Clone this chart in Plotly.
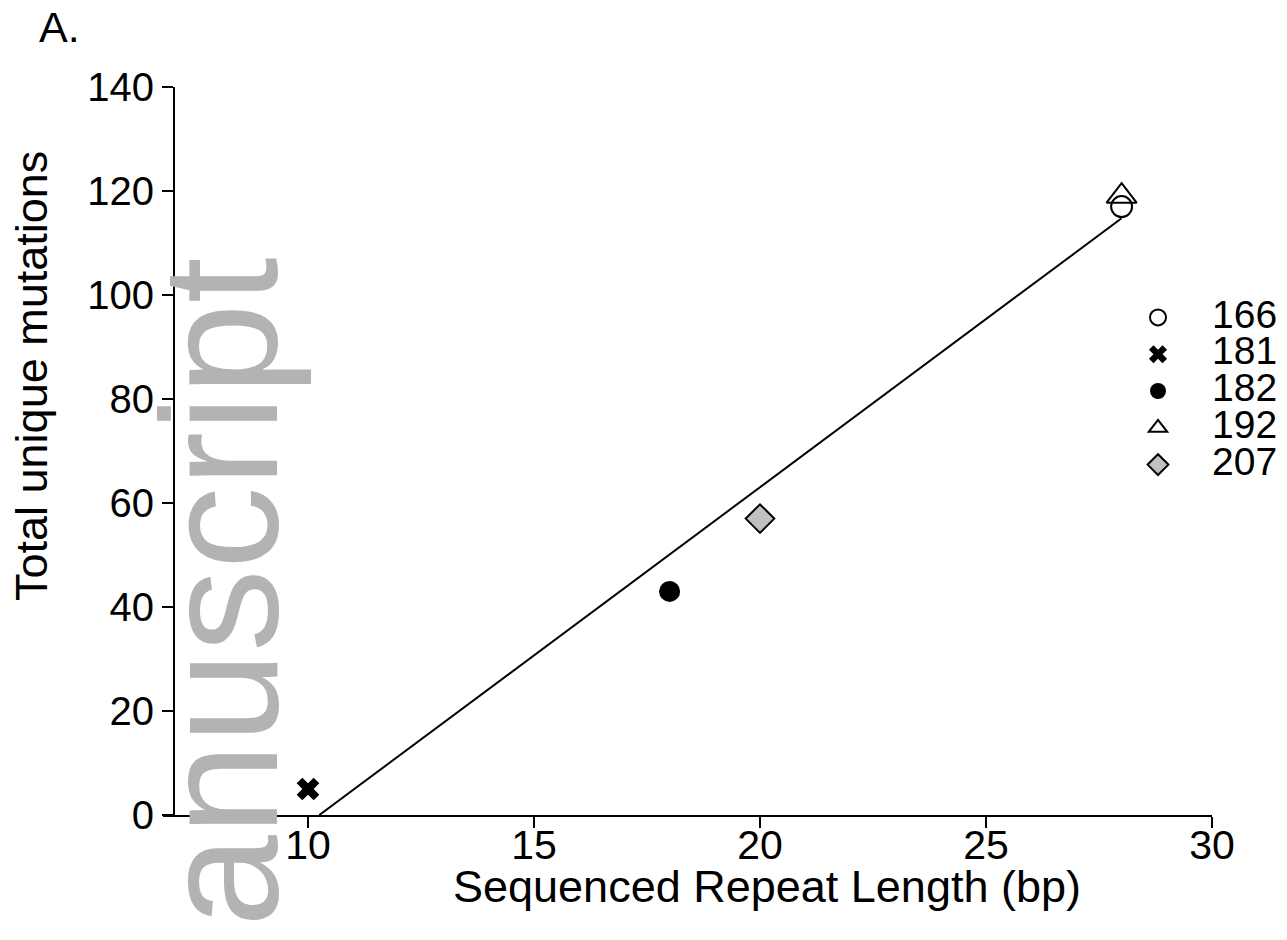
import numpy as np
import plotly.graph_objects as go

# ---- data ----
series_names = ["166", "181", "182", "192", "207"]
repeat_length = [28, 10, 18, 28, 20]
unique_mutations = [117, 5, 43, 119, 57]

x_ticks = [10, 15, 20, 25, 30]
y_ticks = [0, 20, 40, 60, 80, 100, 120, 140]

# ---- styles ----
symbols = ["circle", "x", "circle", "triangle-up", "diamond"]
fills = ["rgba(0,0,0,0)", "black", "black", "rgba(0,0,0,0)", "#c0c0c0"]
line_w = [2, 0, 0, 2, 2]
sizes = [21, 20, 21, 26, 22]

FONT = "Arial, 'Liberation Sans', Helvetica, sans-serif"

fig = go.Figure()

# regression line computed from the data
slope, intercept = np.polyfit(repeat_length, unique_mutations, 1)
x_start = -intercept / slope
x_end = max(repeat_length)
fig.add_trace(go.Scatter(
    x=[x_start, x_end], y=[slope * x_start + intercept, slope * x_end + intercept],
    mode="lines", line=dict(color="black", width=2), showlegend=False, hoverinfo="skip"))

for i in range(len(series_names)):
    fig.add_trace(go.Scatter(
        x=[repeat_length[i]], y=[unique_mutations[i]], mode="markers",
        name='<span style="font-size:39px">' + series_names[i] + '</span>',
        legendrank=i + 1,
        marker=dict(symbol=symbols[i], size=sizes[i], color=fills[i],
                    line=dict(color="black", width=line_w[i]))))

W, H = 1287, 940
L, R, T, B = 163, 75, 87, 125
pw = W - L - R
ph = H - T - B

def px_x(p):
    return (p - L) / pw

def px_y(p):
    return (H - B - p) / ph

fig.update_layout(
    width=W, height=H,
    margin=dict(l=L, r=R, t=T, b=B, pad=0, autoexpand=False),
    paper_bgcolor="white", plot_bgcolor="white",
    font=dict(family=FONT, color="black"),
    showlegend=True,
    legend=dict(x=px_x(1104), y=px_y(294), xanchor="left", yanchor="top",
                font=dict(size=26, family=FONT), bgcolor="rgba(0,0,0,0)",
                tracegroupgap=0, itemwidth=98),
    xaxis=dict(range=[30 - pw / 45.2, 30], tickvals=x_ticks, showline=True,
               linecolor="black", linewidth=2, ticks="outside", ticklen=11,
               tickwidth=2, tickcolor="black", showgrid=False, zeroline=False,
               ticklabelstandoff=-18,
               tickfont=dict(size=41, family=FONT)),
    yaxis=dict(range=[0, 140], tickvals=y_ticks, anchor="free", position=px_x(174),
               showline=True, linecolor="black", linewidth=2, ticks="outside",
               ticklen=11, tickwidth=2, tickcolor="black", showgrid=False,
               zeroline=False, tickfont=dict(size=40, family=FONT)),
)

annotations = [
    dict(text="anuscript", textangle=-90, x=px_x(220), y=px_y(592), xref="paper", yref="paper",
         xanchor="center", yanchor="middle", showarrow=False,
         font=dict(size=165, color="#b3b3b3", family=FONT)),
    dict(text="Sequenced Repeat Length (bp)", x=px_x(767), y=px_y(886), xref="paper",
         yref="paper", xanchor="center", yanchor="middle", showarrow=False,
         font=dict(size=45, family=FONT)),
    dict(text="Total unique mutations", textangle=-90, x=px_x(31), y=px_y(376),
         xref="paper", yref="paper", xanchor="center", yanchor="middle", showarrow=False,
         font=dict(size=45, family=FONT)),
    dict(text="A.", x=px_x(37), y=px_y(27), xref="paper", yref="paper",
         xanchor="left", yanchor="middle", showarrow=False, font=dict(size=43, family=FONT)),
]
fig.update_layout(annotations=annotations)

fig.write_html("out.html", config={"displayModeBar": False},
               post_script="document.body.style.margin='0';")
